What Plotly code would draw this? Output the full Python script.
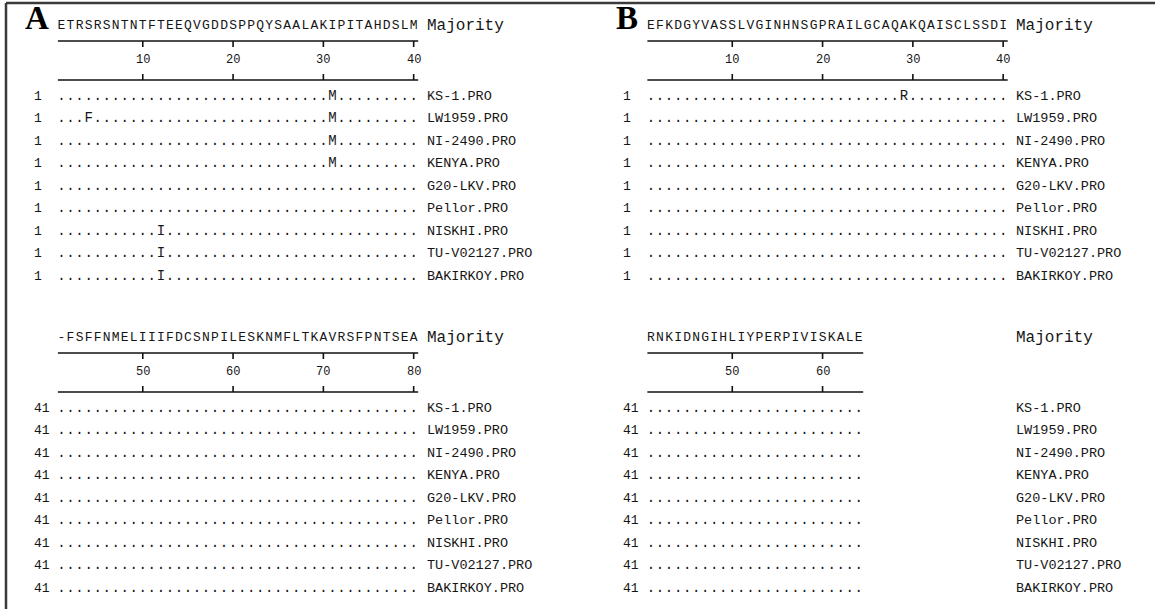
import plotly.graph_objects as go

W, H = 1155, 609

# ---------------- data ----------------
strains = ["KS-1.PRO", "LW1959.PRO", "NI-2490.PRO", "KENYA.PRO", "G20-LKV.PRO",
           "Pellor.PRO", "NISKHI.PRO", "TU-V02127.PRO", "BAKIRKOY.PRO"]

A_top_majority = "ETRSRSNTNTFTEEQVGDDSPPQYSAALAKIPITAHDSLM"
A_bot_majority = "-FSFFNMELIIIFDCSNPILESKNMFLTKAVRSFPNTSEA"
B_top_majority = "EFKDGYVASSLVGINHNSGPRAILGCAQAKQAISCLSSDI"
B_bot_majority = "RNKIDNGIHLIYPERPIVISKALE"

A_top_start, A_bot_start = 1, 41
B_top_start, B_bot_start = 1, 41

# substitutions relative to majority (position within block -> residue)
A_top_variants = {"KS-1.PRO": {31: "M"}, "LW1959.PRO": {4: "F", 31: "M"},
                  "NI-2490.PRO": {31: "M"}, "KENYA.PRO": {31: "M"},
                  "NISKHI.PRO": {12: "I"}, "TU-V02127.PRO": {12: "I"},
                  "BAKIRKOY.PRO": {12: "I"}}
A_bot_variants = {}
B_top_variants = {"KS-1.PRO": {29: "R"}}
B_bot_variants = {}

panel_labels = ["A", "B"]

# ---------------- layout constants ----------------
COL_PX = 9.03
A_COL1_PX = 61.5
B_COL1_PX = 651.0
ROW_STEP = 22.5
HDR_Y = [26.0, 338.0]          # majority line of top / bottom block
RULE1_DY, LABEL_DY, RULE2_DY, ROW1_DY = 15.0, 34.0, 54.0, 70.0
TICK_LEN = 6.0
NUM_COL = -2.3
NAME_COL = 41.2
FONT = "Liberation Mono"
INK = "#161616"


def xrange_for(col1_px):
    x0 = 1 - col1_px / COL_PX
    return [x0, x0 + W / COL_PX]


fig = go.Figure()
annotations = []
shapes = []

panels = [
    ("x", "x", [(A_top_majority, A_top_start, A_top_variants), (A_bot_majority, A_bot_start, A_bot_variants)]),
    ("x2", "x2", [(B_top_majority, B_top_start, B_top_variants), (B_bot_majority, B_bot_start, B_bot_variants)]),
]

for p, (xax, xref, blocks) in enumerate(panels):
    # panel letter
    annotations.append(dict(x=-1.7, y=HDR_Y[0] - 8, xref=xref, yref="y", text="<b>%s</b>" % panel_labels[p],
                            showarrow=False, xanchor="center", yanchor="middle",
                            font=dict(family="Liberation Serif", size=33, color="#000")))
    for b, (maj, start, variants) in enumerate(blocks):
        hy = HDR_Y[b]
        n = len(maj)
        cols = list(range(1, n + 1))
        # majority letters
        fig.add_trace(go.Scatter(x=cols, y=[hy] * n, text=list(maj), mode="text",
                                 textposition="middle center", xaxis=xax, yaxis="y",
                                 textfont=dict(family=FONT, size=13, color=INK),
                                 hoverinfo="skip", showlegend=False))
        annotations.append(dict(x=NAME_COL, y=hy, xref=xref, yref="y", text="Majority",
                                showarrow=False, xanchor="left", yanchor="middle",
                                font=dict(family=FONT, size=16, color=INK)))
        # rules
        r1, r2 = hy + RULE1_DY, hy + RULE2_DY
        for ry in (r1, r2):
            shapes.append(dict(type="line", xref=xref, yref="y", x0=0.6, x1=n + 0.5,
                               y0=ry, y1=ry, line=dict(color="#111", width=1.6)))
        ticks = [v for v in range(10, start + n, 10) if v >= start]
        for v in ticks:
            c = v - start + 1
            shapes.append(dict(type="line", xref=xref, yref="y", x0=c, x1=c,
                               y0=r1, y1=r1 + TICK_LEN, line=dict(color="#111", width=1.6)))
            shapes.append(dict(type="line", xref=xref, yref="y", x0=c, x1=c,
                               y0=r2, y1=r2 - TICK_LEN, line=dict(color="#111", width=1.6)))
            annotations.append(dict(x=c, y=hy + LABEL_DY, xref=xref, yref="y", text=str(v),
                                    showarrow=False, xanchor="center", yanchor="middle",
                                    font=dict(family=FONT, size=12, color=INK)))
        # sequence rows
        xs, ys, ts = [], [], []
        for i, s in enumerate(strains):
            ry = hy + ROW1_DY + i * ROW_STEP
            var = variants.get(s, {})
            for c in cols:
                xs.append(c)
                ys.append(ry)
                ts.append(var.get(c, "."))
            annotations.append(dict(x=NUM_COL, y=ry, xref=xref, yref="y", text=str(start),
                                    showarrow=False, xanchor="left", yanchor="middle",
                                    font=dict(family=FONT, size=13, color=INK)))
            annotations.append(dict(x=NAME_COL, y=ry, xref=xref, yref="y", text=s,
                                    showarrow=False, xanchor="left", yanchor="middle",
                                    font=dict(family=FONT, size=13.5, color=INK)))
        fig.add_trace(go.Scatter(x=xs, y=ys, text=ts, mode="text", textposition="middle center",
                                 xaxis=xax, yaxis="y",
                                 textfont=dict(family=FONT, size=14, color=INK),
                                 hoverinfo="skip", showlegend=False))

# outer frame (top and left edges visible)
shapes.append(dict(type="line", xref="paper", yref="paper", x0=6 / W, x1=1.0,
                   y0=1 - 3 / H, y1=1 - 3 / H, line=dict(color="#3a3a3a", width=2.5)))
shapes.append(dict(type="line", xref="paper", yref="paper", x0=6 / W, x1=6 / W,
                   y0=0, y1=1 - 3 / H, line=dict(color="#3a3a3a", width=2.5)))

axis_off = dict(visible=False, showgrid=False, zeroline=False, fixedrange=True)
fig.update_layout(
    width=W, height=H, margin=dict(l=0, r=0, t=0, b=0),
    paper_bgcolor="white", plot_bgcolor="white",
    xaxis=dict(range=xrange_for(A_COL1_PX), domain=[0, 1], **axis_off),
    xaxis2=dict(range=xrange_for(B_COL1_PX), domain=[0, 1], overlaying="x", **axis_off),
    yaxis=dict(range=[H, 0], domain=[0, 1], **axis_off),
    annotations=annotations, shapes=shapes,
)

fig.write_html("out.html", config={"displayModeBar": False},
               post_script="document.body.style.margin='0px';document.body.style.overflow='hidden';")
